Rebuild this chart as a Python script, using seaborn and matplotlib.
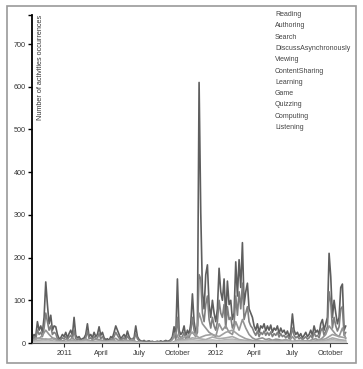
import matplotlib
matplotlib.use("Agg")
import matplotlib.pyplot as plt
import seaborn as sns
import pandas as pd
from matplotlib.patches import Rectangle
from matplotlib.lines import Line2D

# ---------------- data ----------------
activities = ["Reading", "Authoring", "Search", "DiscussAsynchronously", "Viewing",
              "ContentSharing", "Learning", "Game", "Quizzing", "Computing", "Listening"]

start_date = "2010-10-17"
step_days = [4, 4, 8, 16, 16, 16, 16, 16, 16, 16, 16]

reading = [12, 20, 15, 50, 30, 40, 25, 60, 143, 90,
           45, 65, 30, 40, 38, 20, 10, 12, 20, 15,
           25, 12, 22, 30, 18, 60, 18, 12, 15, 8,
           10, 12, 20, 45, 15, 20, 12, 25, 15, 20,
           38, 18, 25, 12, 8, 10, 6, 15, 12, 25,
           40, 30, 20, 10, 15, 20, 12, 28, 15, 8,
           10, 12, 40, 15, 8, 5, 4, 6, 3, 4,
           5, 3, 4, 2, 3, 4, 3, 5, 3, 4,
           6, 4, 5, 8, 15, 38, 12, 150, 30, 20,
           25, 40, 15, 30, 20, 45, 115, 50, 25, 40,
           610, 305, 120, 80, 160, 183, 90, 60, 100, 70,
           50, 80, 175, 120, 100, 150, 60, 145, 90, 100,
           55, 70, 190, 110, 195, 130, 235, 90, 120, 140,
           80, 70, 60, 40, 30, 45, 25, 40, 35, 45,
           28, 40, 30, 42, 25, 35, 30, 40, 22, 35,
           25, 30, 20, 28, 15, 25, 68, 30, 20, 25,
           15, 22, 12, 18, 25, 15, 20, 30, 18, 40,
           25, 30, 20, 45, 55, 30, 45, 60, 210, 155,
           60, 100, 70, 45, 60, 130, 138, 30, 40]

authoring = [6, 15, 10, 30, 20, 25, 15, 35, 70, 50,
             30, 40, 20, 25, 22, 10, 6, 8, 12, 10,
             15, 8, 14, 18, 10, 30, 10, 8, 10, 5,
             6, 8, 12, 28, 10, 12, 8, 15, 10, 12,
             22, 10, 15, 8, 5, 6, 4, 10, 8, 15,
             25, 18, 12, 6, 10, 12, 8, 16, 10, 5,
             6, 8, 22, 10, 5, 3, 2, 4, 2, 3,
             3, 2, 3, 1, 2, 3, 2, 3, 2, 3,
             4, 3, 3, 5, 10, 22, 8, 60, 18, 12,
             15, 25, 10, 18, 12, 28, 60, 30, 15, 25,
             160, 150, 70, 50, 90, 110, 55, 35, 60, 40,
             30, 50, 100, 70, 60, 90, 35, 85, 55, 60,
             35, 45, 110, 65, 120, 80, 140, 55, 70, 85,
             50, 40, 35, 25, 18, 28, 15, 25, 20, 28,
             18, 25, 18, 26, 15, 22, 18, 25, 14, 22,
             15, 18, 12, 17, 10, 15, 35, 18, 12, 15,
             10, 13, 8, 11, 15, 9, 12, 18, 11, 25,
             15, 18, 12, 28, 35, 18, 28, 38, 120, 95,
             35, 60, 40, 28, 38, 80, 85, 18, 25]

search = [5, 12, 10, 18, 30, 20, 12, 10, 4, 5,
          8, 6, 12, 5, 4, 3, 10, 5, 6, 9,
          8, 6, 3, 4, 6, 11, 5, 6, 8, 4,
          9, 3, 2, 1, 1, 1, 1, 2, 1, 1,
          1, 2, 8, 25, 8, 10, 6, 18, 25, 15,
          70, 45, 35, 25, 20, 15, 45, 30, 40, 25,
          20, 50, 30, 55, 35, 20, 12, 8, 10, 12,
          8, 10, 6, 9, 8, 5, 6, 4, 15, 5,
          4, 6, 4, 5, 8, 10, 6, 12, 20, 40,
          30, 20, 15, 35, 10]

discuss = [5, 12, 8, 10, 4, 3, 6, 4, 8, 3, 5, 4, 6, 3, 5, 4, 2,
           0, 1, 0, 1, 1, 10, 15, 25, 12, 18, 20, 15, 25, 30, 18, 10, 6, 5,
           4, 6, 5, 8, 4, 6, 5, 4, 6, 10, 20, 15, 12]
viewing = [3, 6, 10, 5, 2, 2, 4, 3, 5, 2, 3, 2, 4, 2, 3, 2, 1,
           0, 0, 1, 0, 0, 6, 8, 12, 10, 8, 14, 10, 12, 15, 8, 6, 4, 3,
           3, 4, 3, 5, 3, 4, 3, 3, 4, 6, 12, 8, 6]
content_sharing = [2, 4, 5, 3, 2, 1, 2, 2, 3, 1, 2, 2, 2, 1, 2, 1, 1,
                   0, 0, 0, 0, 1, 4, 6, 8, 5, 6, 7, 5, 8, 9, 6, 4, 3, 2,
                   2, 3, 2, 3, 2, 3, 2, 2, 3, 4, 8, 5, 4]
learning = [1, 3, 4, 2, 1, 1, 2, 1, 2, 1, 1, 1, 2, 1, 1, 1, 0,
            0, 0, 0, 0, 0, 3, 4, 6, 3, 4, 5, 4, 6, 7, 4, 3, 2, 1,
            1, 2, 1, 2, 1, 2, 1, 1, 2, 3, 5, 3, 2]
game = [0, 1, 2, 1, 0, 0, 1, 0, 1, 0, 1, 0, 1, 0, 1, 0, 0,
        0, 0, 0, 0, 0, 1, 2, 3, 2, 2, 3, 2, 3, 3, 2, 1, 1, 1,
        0, 1, 1, 1, 0, 1, 1, 0, 1, 1, 2, 1, 1]
quizzing = [1, 2, 3, 2, 1, 1, 1, 1, 2, 1, 1, 1, 1, 1, 1, 1, 0,
            0, 0, 0, 0, 0, 2, 3, 5, 3, 4, 4, 3, 5, 6, 3, 2, 1, 1,
            1, 1, 1, 2, 1, 1, 1, 1, 1, 2, 4, 2, 2]
computing = [0, 1, 1, 1, 0, 0, 0, 1, 0, 0, 1, 0, 0, 1, 0, 0, 0,
             0, 0, 0, 0, 0, 1, 1, 2, 1, 1, 2, 1, 2, 2, 1, 1, 0, 0,
             0, 1, 0, 1, 0, 0, 1, 0, 0, 1, 1, 1, 0]
listening = [0, 0, 1, 0, 0, 0, 0, 0, 1, 0, 0, 0, 0, 0, 0, 0, 0,
             0, 0, 0, 0, 0, 0, 1, 1, 1, 0, 1, 1, 1, 1, 0, 0, 0, 0,
             0, 0, 0, 0, 0, 1, 0, 0, 0, 0, 1, 0, 0]

series_values = [reading, authoring, search, discuss, viewing, content_sharing,
                 learning, game, quizzing, computing, listening]

tick_dates = ["2011-01-01", "2011-04-01", "2011-07-01", "2011-10-01",
              "2012-01-01", "2012-04-01", "2012-07-01", "2012-10-01"]
tick_labels = ["2011", "April", "July", "October", "2012", "April", "July", "October"]
y_ticks = [0, 100, 200, 300, 400, 500, 600, 700]

# ---------------- table ----------------
frames = []
for name, vals, step in zip(activities, series_values, step_days):
    dates = pd.date_range(start_date, periods=len(vals), freq=f"{step}D")
    frames.append(pd.DataFrame({"date": dates, "count": vals, "activity": name}))
df = pd.concat(frames, ignore_index=True)

grays = ["#5e5e5e", "#7e7e7e", "#939393", "#a0a0a0", "#aaaaaa", "#b2b2b2",
         "#bababa", "#c0c0c0", "#c6c6c6", "#cccccc", "#d2d2d2"]

# ---------------- plot ----------------
sns.set_style("white")
plt.rcParams["font.family"] = ["Liberation Sans", "DejaVu Sans"]

W, H = 363, 369
fig = plt.figure(figsize=(W / 100, H / 100), dpi=100)
ax = fig.add_axes([32 / W, 1 - 343 / H, (347 - 32) / W, (343 - 15) / H])

sns.lineplot(data=df, x="date", y="count", hue="activity", hue_order=activities,
             palette=grays, estimator=None, sort=False, linewidth=1.2,
             legend=False, ax=ax)

ax.set_xlim(pd.Timestamp("2010-10-16"), pd.Timestamp("2012-11-10"))
ax.set_ylim(0, 768)

ax.set_yticks(y_ticks + [768])
ax.set_yticklabels([str(v) for v in y_ticks] + [""])
ax.set_xticks(pd.to_datetime(tick_dates))
ax.set_xticklabels(tick_labels)
ax.set_xlabel("")
ax.set_ylabel("")

ax.tick_params(axis="y", direction="out", length=3, width=1, color="black",
               labelsize=5.2, pad=1.5, labelcolor="#333333", left=True)
ax.tick_params(axis="x", direction="out", length=2.8, width=0.8, color="#333333",
               labelsize=5.2, pad=2, labelcolor="#333333", bottom=True)

for s in ["top", "right"]:
    ax.spines[s].set_visible(False)
ax.spines["left"].set_color("black")
ax.spines["left"].set_linewidth(1.3)
ax.spines["bottom"].set_color("#555555")
ax.spines["bottom"].set_linewidth(0.8)

ax.text((40 - 32) / 315, 1.0, "Number of activities occurrences", rotation=90,
        ha="center", va="top", fontsize=5.2, color="#333333", transform=ax.transAxes)

handles = [Line2D([], [], alpha=0) for _ in activities]
leg = ax.legend(handles, activities, loc="upper left",
                bbox_to_anchor=(275 / W, 1 - 11 / H), bbox_transform=fig.transFigure,
                frameon=False, handlelength=0, handletextpad=0, borderpad=0,
                borderaxespad=0, labelspacing=0.62, fontsize=5.0)
for t in leg.get_texts():
    t.set_color("#444444")

fig.patches.append(Rectangle((7 / W, 1 - 363 / H), (356 - 7) / W, (363 - 6) / H,
                             fill=False, edgecolor="#9a9a9a", linewidth=1.2,
                             transform=fig.transFigure, figure=fig))

fig.savefig("out.png", dpi=100)
